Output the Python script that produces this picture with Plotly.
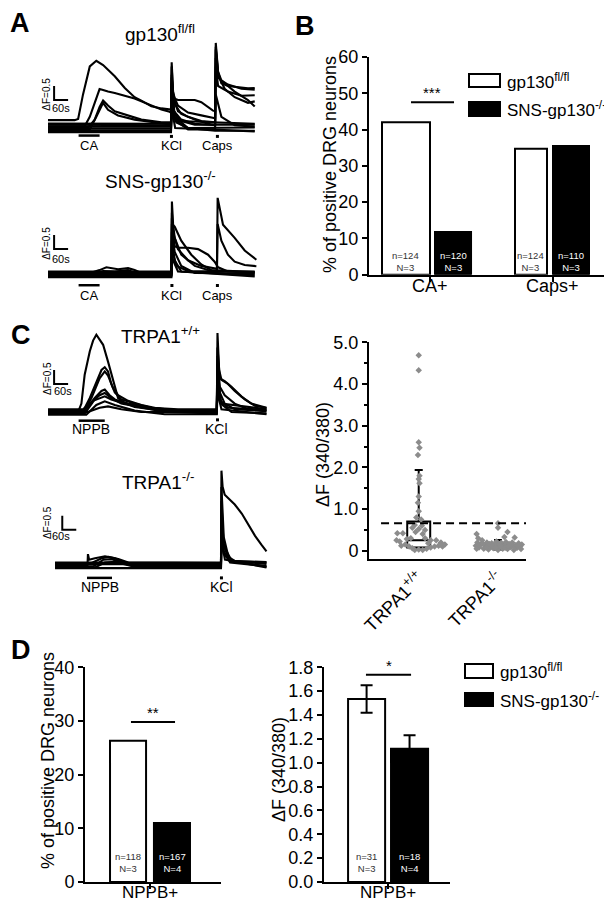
import plotly.graph_objects as go

FONT = "Liberation Sans, Arial, Helvetica, sans-serif"
W, H = 612, 900


def px(xp):
    return xp / W


def py(yp):
    return 1 - yp / H


# ---------------- Panel A: calcium traces (time in s, dF 340/380) ----------------
gp130_ff_traces = [
    ([0, 114, 129, 150, 179, 207, 236, 286, 329, 371, 400, 443, 486, 521, 527, 530, 536, 543, 557, 600, 629, 657, 686, 707, 716, 719, 729, 743, 771, 800, 829, 857, 886],
     [0.28, 0.28, 0.32, 1.2, 2.2, 2.4, 2.25, 1.85, 1.43, 1.1, 0.98, 0.78, 0.7, 0.65, 0.66, 2.35, 1.3, 1.05, 1.0, 1.0, 1.0, 0.92, 0.75, 0.62, 0.6, 3.04, 2.0, 1.6, 1.5, 1.47, 1.45, 1.42, 1.43]),
    ([0, 157, 179, 207, 221, 236, 257, 286, 329, 371, 400, 443, 486, 521, 527, 530, 536, 557, 600, 657, 716, 719, 729, 743, 771, 829, 886],
     [0.06, 0.06, 0.4, 1.1, 1.39, 1.36, 1.3, 1.25, 1.15, 1.05, 0.95, 0.8, 0.66, 0.58, 0.55, 2.2, 1.2, 0.8, 0.55, 0.45, 0.35, 2.9, 2.0, 1.7, 1.55, 1.4, 1.37]),
    ([0, 171, 200, 221, 236, 257, 286, 329, 400, 486, 527, 530, 536, 557, 600, 657, 716, 719, 729, 757, 800, 857, 886],
     [0.0, 0.0, 0.3, 0.75, 0.98, 0.8, 0.6, 0.48, 0.3, 0.2, 0.2, 1.9, 1.1, 0.6, 0.4, 0.25, 0.2, 2.5, 1.8, 1.6, 1.3, 1.0, 0.77]),
    ([0, 179, 207, 236, 257, 300, 371, 486, 527, 530, 540, 571, 629, 716, 719, 729, 771, 829, 886],
     [-0.05, -0.05, 0.4, 0.9, 0.65, 0.45, 0.3, 0.15, 0.12, 1.5, 0.6, 0.3, 0.15, 0.1, 2.2, 1.5, 1.3, 1.15, 1.17]),
    ([0, 527, 530, 540, 557, 600, 716, 886], [-0.12, -0.12, 1.6, 0.6, 0.3, 0.0, -0.1, -0.1]),
    ([0, 527, 530, 543, 571, 629, 886], [0.12, 0.1, 1.3, 0.5, 0.25, 0.12, 0.12]),
    ([0, 527, 530, 543, 600, 716, 719, 743, 800, 886], [-0.08, -0.08, 1.0, 0.3, -0.05, -0.05, 1.2, 0.4, 0.1, 0.05]),
    ([0, 527, 530, 540, 571, 629, 686, 716, 719, 729, 757, 800, 857, 886],
     [0.05, 0.05, 1.8, 0.9, 0.5, 0.3, 0.15, 0.1, 2.8, 1.9, 1.4, 1.1, 0.9, 0.95]),
    ([0, 527, 530, 550, 600, 886], [-0.02, -0.02, 0.8, 0.2, 0.0, 0.02]),
    ([0, 527, 530, 557, 886], [0.16, 0.15, 0.5, 0.25, 0.15]),
    ([0, 527, 530, 545, 886], [-0.15, -0.15, 0.7, 0.0, -0.12]),
]

sns_gp130_traces = [
    ([0, 529, 531, 536, 543, 557, 600, 643, 686, 714, 729, 771, 886],
     [0.05, 0.05, 2.0, 1.4, 1.0, 0.95, 0.95, 0.9, 0.7, 0.45, 0.25, 0.1, 0.05]),
    ([0, 529, 531, 536, 543, 571, 629, 686, 724, 727, 750, 800, 843, 893],
     [-0.05, -0.05, 2.6, 1.8, 1.3, 0.7, 0.3, 0.15, 0.1, 2.73, 1.77, 1.3, 0.85, 0.52]),
    ([0, 529, 531, 536, 557, 600, 657, 724, 727, 743, 771, 800, 843, 893],
     [0.0, 0.0, 2.2, 1.5, 0.9, 0.5, 0.3, 0.2, 1.8, 1.2, 0.7, 0.45, 0.33, 0.29]),
    ([0, 529, 531, 543, 571, 614, 657, 700, 886], [0.08, 0.08, 1.8, 1.7, 1.2, 0.7, 0.35, 0.15, 0.08]),
    ([0, 529, 531, 543, 571, 886], [-0.1, -0.1, 1.2, 0.5, 0.1, -0.08]),
    ([0, 529, 531, 550, 600, 886], [0.1, 0.1, 0.9, 0.3, 0.12, 0.1]),
    ([0, 171, 221, 250, 300, 343, 371, 400, 529, 531, 543, 571, 629, 886],
     [0.02, 0.02, 0.15, 0.25, 0.18, 0.22, 0.15, 0.05, 0.03, 1.5, 0.8, 0.3, 0.05, 0.03]),
    ([0, 186, 236, 286, 343, 386, 529, 531, 557, 886], [-0.03, -0.03, 0.12, 0.1, 0.15, 0.0, -0.03, 0.6, 0.1, -0.03]),
]

# ---------------- Panel C: calcium traces ----------------
trpa1_wt_traces = [
    ([0, 129, 143, 157, 179, 193, 207, 221, 236, 257, 286, 300, 329, 371, 443, 543, 723, 726, 733, 743, 771, 800, 843, 886, 936],
     [0, 0, 0.3, 1.33, 2.17, 2.55, 2.76, 2.6, 2.4, 1.8, 0.86, 0.5, 0.32, 0.18, 0.1, 0.03, 0, 2.82, 1.5, 1.15, 1.0, 0.75, 0.45, 0.22, 0.14]),
    ([0, 150, 179, 207, 229, 243, 257, 271, 286, 314, 371, 443, 543, 723, 726, 736, 757, 786, 829, 871, 936],
     [0.03, 0.03, 0.5, 1.1, 1.5, 1.6, 1.45, 1.0, 0.7, 0.45, 0.3, 0.15, 0.05, 0.03, 2.3, 1.2, 1.1, 0.9, 0.55, 0.3, 0.15]),
    ([0, 150, 186, 221, 243, 257, 279, 300, 343, 400, 471, 557, 723, 726, 736, 757, 800, 857, 936],
     [-0.03, -0.03, 0.5, 1.2, 1.45, 1.3, 0.85, 0.6, 0.4, 0.25, 0.12, 0.02, -0.02, 2.0, 0.9, 0.6, 0.3, 0.1, 0.05]),
    ([0, 157, 200, 229, 243, 264, 286, 343, 443, 557, 723, 726, 740, 771, 936],
     [0.05, 0.05, 0.5, 0.75, 0.8, 0.6, 0.45, 0.3, 0.15, 0.06, 0.05, 1.5, 0.4, 0.15, 0.08]),
    ([0, 157, 200, 221, 243, 271, 314, 400, 500, 723, 726, 740, 786, 936],
     [-0.06, -0.06, 0.45, 0.6, 0.68, 0.5, 0.3, 0.15, 0.0, -0.05, 1.2, 0.3, 0.0, -0.05]),
    ([0, 150, 193, 221, 243, 271, 329, 443, 557, 723, 726, 743, 936],
     [0.1, 0.1, 0.4, 0.5, 0.56, 0.45, 0.3, 0.15, 0.1, 0.1, 0.9, 0.3, 0.1]),
    ([0, 164, 207, 243, 286, 371, 500, 723, 726, 743, 936],
     [-0.1, -0.1, 0.25, 0.38, 0.25, 0.05, -0.08, -0.08, 0.7, 0.1, -0.08]),
    ([0, 171, 221, 257, 314, 400, 723, 726, 736, 757, 800, 936],
     [0, 0, 0.15, 0.2, 0.1, 0, 0, 1.7, 0.7, 0.3, 0.1, 0.03]),
]

trpa1_ko_traces = [
    ([0, 139, 141, 146, 171, 214, 257, 300, 343, 711, 713, 718, 727, 770, 800, 827, 857, 884, 906],
     [0, 0, 0.4, 0.2, 0.25, 0.32, 0.25, 0.08, 0, 0, 3.38, 2.8, 2.52, 2.17, 1.85, 1.45, 1.05, 0.74, 0.5]),
    ([0, 157, 200, 229, 271, 314, 711, 713, 723, 743, 771, 906], [0.08, 0.08, 0.25, 0.3, 0.22, 0.1, 0.08, 2.8, 1.0, 0.3, 0.15, 0.1]),
    ([0, 171, 214, 257, 314, 711, 713, 721, 743, 906], [-0.08, -0.08, 0.1, 0.12, 0, -0.08, 2.3, 0.8, 0.2, -0.05]),
    ([0, 711, 713, 723, 757, 906], [0.04, 0.04, 2.0, 0.7, 0.15, 0.05]),
    ([0, 164, 207, 243, 286, 329, 711, 713, 723, 750, 906], [-0.04, -0.04, 0.2, 0.22, 0.1, -0.03, -0.04, 1.5, 0.5, 0.1, -0.03]),
    ([0, 711, 713, 723, 750, 906], [0.1, 0.1, 1.2, 0.4, 0.15, 0.12]),
    ([0, 711, 713, 728, 906], [-0.1, -0.1, 0.9, 0.2, -0.08]),
]

# ---------------- Panel B: % positive neurons ----------------
b_categories = ["CA+", "Caps+"]
b_gp130_ff = [42.0, 34.7]
b_sns_gp130 = [11.8, 35.5]
b_n_ff = ["n=124", "n=124"]
b_n_sns = ["n=120", "n=110"]
b_N_ff = ["N=3", "N=3"]
b_N_sns = ["N=3", "N=3"]

# ---------------- Panel C right: dF amplitudes ----------------
c_categories = ["TRPA1<sup>+/+</sup>", "TRPA1<sup>-/-</sup>"]
trpa1_wt_x = [0.0, 0.0, 0.0, 0.01, -0.01, 0.01, 0.0, 0.01, 0.0, -0.01, 0.0, -0.03, 0.03, -0.05, 0.04, -0.08, 0.08, 0.0, -0.04, 0.05,
              -0.27, -0.2, -0.28, -0.24, -0.17, -0.12, -0.08, -0.05, 0.0, 0.05, 0.1, 0.15, 0.2, 0.25, 0.28, 0.22, 0.27, 0.12, -0.1, -0.15,
              0.08, 0.15, 0.3, -0.22, 0.33]
trpa1_wt_y = [4.69, 4.33, 2.6, 2.47, 2.3, 1.8, 1.72, 1.62, 1.3, 1.15, 0.95, 0.8, 0.75, 0.62, 0.6, 0.55, 0.5, 0.52, 0.45, 0.4,
              0.42, 0.42, 0.25, 0.22, 0.15, 0.1, 0.06, 0.02, 0.03, 0.02, 0.05, 0.08, 0.1, 0.12, 0.2, 0.25, 0.15, 0.18, 0.3, 0.28,
              0.3, 0.25, 0.1, 0.12, 0.15]
trpa1_ko_x = [0.72, 0.74, 0.76, 0.78, 0.8, 0.82, 0.84, 0.86, 0.88, 0.9, 0.92, 0.94, 0.96, 0.98, 1.0, 1.02, 1.04, 1.06, 1.08, 1.1,
              1.12, 1.14, 1.16, 1.18, 1.2, 1.22, 1.24, 1.26, 1.28, 1.3,
              0.73, 0.77, 0.81, 0.85, 0.89, 0.93, 0.97, 1.01, 1.05, 1.09, 1.13, 1.17, 1.21, 1.25, 1.29,
              1.0, 1.0, 1.12, 0.73, 1.21, 0.75, 1.08]
trpa1_ko_y = [0.12, 0.2, 0.08, 0.15, 0.25, 0.05, 0.12, 0.2, 0.03, 0.1, 0.18, 0.06, 0.14, 0.22, 0.02, 0.11, 0.19, 0.05, 0.13, 0.21,
              0.04, 0.16, 0.09, 0.2, 0.02, 0.13, 0.07, 0.18, 0.1, 0.15,
              0.05, 0.13, 0.17, 0.08, 0.16, 0.12, 0.07, 0.16, 0.09, 0.07, 0.11, 0.14, 0.08, 0.12, 0.04,
              0.66, 0.55, 0.45, 0.4, 0.32, 0.3, 0.33]
# box statistics: [q1, median, q3, lower whisker, upper whisker]
trpa1_wt_box = [0.08, 0.25, 0.7, 0.05, 1.94]
trpa1_ko_box = [0.06, 0.10, 0.17, 0.03, 0.26]
threshold = 0.66

# ---------------- Panel D ----------------
d_category = ["NPPB+"]
d_pct_ff = [26.3]
d_pct_sns = [11.0]
d_amp_ff = [1.534]
d_amp_sns = [1.117]
d_sem_ff = [0.115]
d_sem_sns = [0.113]

fig = go.Figure()


def axn(i):
    return ("x", "y") if i == 1 else (f"x{i}", f"y{i}")


def add_lines(traces, i):
    xa, ya = axn(i)
    for t, v in traces:
        fig.add_trace(go.Scatter(x=t, y=v, mode="lines", line=dict(color="black", width=2.1),
                                 xaxis=xa, yaxis=ya, showlegend=False, hoverinfo="skip"))


def add_seg(xs, ys, i, width=2.0, dash=None):
    xa, ya = axn(i)
    fig.add_trace(go.Scatter(x=xs, y=ys, mode="lines", line=dict(color="black", width=width, dash=dash),
                             xaxis=xa, yaxis=ya, showlegend=False, hoverinfo="skip"))


def add_dot(x, y, i):
    xa, ya = axn(i)
    fig.add_trace(go.Scatter(x=[x], y=[y], mode="markers", marker=dict(color="black", size=3, symbol="square"),
                             xaxis=xa, yaxis=ya, showlegend=False, hoverinfo="skip"))


annotations = []


def ann(text, x, y, i=None, size=13, angle=0, xanchor="center", yanchor="middle", color="black", bold=False,
        yref=None):
    if i is None:
        xr, yr = "paper", "paper"
    else:
        xr, yr = axn(i)
    if yref is not None:
        yr = yref
    annotations.append(dict(text=f"<b>{text}</b>" if bold else text, x=x, y=y, xref=xr, yref=yr,
                            showarrow=False, textangle=angle, xanchor=xanchor, yanchor=yanchor,
                            font=dict(size=size, color=color, family=FONT)))


# ---- trace panels ----
add_lines(gp130_ff_traces, 1)
add_lines(sns_gp130_traces, 2)
add_lines(trpa1_wt_traces, 4)
add_lines(trpa1_ko_traces, 5)

# scale bars (0.5 dF, 60 s)
for i, sx, sy in [(1, 26, 1.0), (2, 26, 0.9), (4, 26, 1.0), (5, 31, 1.27)]:
    add_seg([sx, sx, sx + 60], [sy + 0.5, sy, sy], i)

# stimulus markers
add_seg([131, 221], [-0.27, -0.27], 1, 2.5)
add_dot(529, -0.3, 1)
add_dot(726, -0.3, 1)
add_seg([131, 221], [-0.39, -0.39], 2, 2.5)
add_dot(531, -0.4, 2)
add_dot(726, -0.4, 2)
add_seg([131, 243], [-0.31, -0.31], 4, 2.5)
add_dot(726, -0.28, 4)
add_seg([137, 244], [-0.45, -0.45], 5, 2.5)
add_dot(713, -0.45, 5)

# texts on trace panels
ann("ΔF=0.5", -5, 1.22, 1, 10, -90)
ann("60s", 57, 0.71, 1, 11)
ann("CA", 176, -0.62, 1, 13)
ann("KCl", 529, -0.62, 1, 13)
ann("Caps", 726, -0.62, 1, 13)
ann("gp130<sup>fl/fl</sup>", px(152), py(25), None, 19)

ann("ΔF=0.5", -5, 1.12, 2, 10, -90)
ann("60s", 57, 0.56, 2, 11)
ann("CA", 176, -0.75, 2, 13)
ann("KCl", 531, -0.75, 2, 13)
ann("Caps", 726, -0.75, 2, 13)
ann("SNS-gp130<sup>-/-</sup>", px(152), py(172), None, 19)

ann("ΔF=0.5", -5, 1.21, 4, 10, -90)
ann("60s", 64, 0.74, 4, 11)
ann("NPPB", 186, -0.6, 4, 14)
ann("KCl", 721, -0.6, 4, 14)
ann("TRPA1<sup>+/+</sup>", px(152), py(327), None, 19)

ann("ΔF=0.5", -34, 1.51, 5, 10, -90)
ann("60s", 27, 1.04, 5, 11)
ann("NPPB", 191, -0.77, 5, 14)
ann("KCl", 713, -0.77, 5, 14)
ann("TRPA1<sup>-/-</sup>", px(150), py(473), None, 19)

# ---- Panel B bars ----
b_x = [0, 1]
fig.add_trace(go.Bar(x=b_x, y=b_gp130_ff, offset=[-0.394, -0.308], width=[0.392, 0.261],
                     marker=dict(color="white", line=dict(color="black", width=2)),
                     xaxis="x3", yaxis="y3", showlegend=False, hoverinfo="skip"))
fig.add_trace(go.Bar(x=b_x, y=b_sns_gp130, offset=[0.039, 0.002], width=[0.294, 0.294],
                     marker=dict(color="black", line=dict(color="black", width=2)),
                     xaxis="x3", yaxis="y3", showlegend=False, hoverinfo="skip"))
add_seg([-0.157, 0.194], [47.5, 47.5], 3, 2)
ann("***", 0.018, 47.2, 3, 15, yanchor="bottom")
for xc, n1, n2, col in [(-0.198, b_n_ff[0], b_N_ff[0], "#333"), (0.186, b_n_sns[0], b_N_sns[0], "white"),
                        (1 - 0.178, b_n_ff[1], b_N_ff[1], "#333"), (1.149, b_n_sns[1], b_N_sns[1], "white")]:
    ann(f"{n1}<br>{n2}", xc, 3.7, 3, 9.5, color=col)
for xc, lab in zip(b_x, b_categories):
    ann(lab, xc, py(278), 3, 18, yref="paper")

# ---- Panel C right: box + points ----
fig.add_trace(go.Scatter(x=trpa1_wt_x, y=trpa1_wt_y, mode="markers",
                         marker=dict(color="#8c8c8c", size=5, symbol="diamond"),
                         xaxis="x6", yaxis="y6", showlegend=False, hoverinfo="skip"))
fig.add_trace(go.Scatter(x=trpa1_ko_x, y=trpa1_ko_y, mode="markers",
                         marker=dict(color="#8c8c8c", size=5, symbol="diamond"),
                         xaxis="x6", yaxis="y6", showlegend=False, hoverinfo="skip"))
fig.add_trace(go.Box(x=[0], q1=[trpa1_wt_box[0]], median=[trpa1_wt_box[1]], q3=[trpa1_wt_box[2]],
                     lowerfence=[trpa1_wt_box[3]], upperfence=[trpa1_wt_box[4]], width=0.29, whiskerwidth=0.35,
                     line=dict(color="black", width=2), fillcolor="rgba(0,0,0,0)", boxpoints=False,
                     orientation="v", xaxis="x6", yaxis="y6", showlegend=False, hoverinfo="skip"))
fig.add_trace(go.Box(x=[1], q1=[trpa1_ko_box[0]], median=[trpa1_ko_box[1]], q3=[trpa1_ko_box[2]],
                     lowerfence=[trpa1_ko_box[3]], upperfence=[trpa1_ko_box[4]], width=0.29, whiskerwidth=0.35,
                     line=dict(color="black", width=2), fillcolor="black", boxpoints=False,
                     orientation="v", xaxis="x6", yaxis="y6", showlegend=False, hoverinfo="skip"))
add_seg([-0.475, 1.353], [threshold, threshold], 6, 2, "8px,5px")
ann("ΔF (340/380)", px(315), py(446), None, 18, -90)

# ---- Panel D bars ----
fig.add_trace(go.Bar(x=[0], y=d_pct_ff, offset=[-0.294], width=[0.265],
                     marker=dict(color="white", line=dict(color="black", width=2)),
                     xaxis="x7", yaxis="y7", showlegend=False, hoverinfo="skip"))
fig.add_trace(go.Bar(x=[0], y=d_pct_sns, offset=[0.029], width=[0.265],
                     marker=dict(color="black", line=dict(color="black", width=2)),
                     xaxis="x7", yaxis="y7", showlegend=False, hoverinfo="skip"))
add_seg([-0.14, 0.184], [29.8, 29.8], 7, 2)
ann("**", 0.022, 29.6, 7, 15, yanchor="bottom")
ann("n=118<br>N=3", -0.162, 3.65, 7, 9.5, color="#333")
ann("n=167<br>N=4", 0.162, 3.65, 7, 9.5, color="white")
ann(d_category[0], 0, py(884), 7, 17, yref="paper")

fig.add_trace(go.Bar(x=[0], y=d_amp_ff, offset=[-0.317], width=[0.294],
                     marker=dict(color="white", line=dict(color="black", width=2)),
                     error_y=dict(type="data", array=d_sem_ff, color="black", thickness=2, width=6),
                     xaxis="x8", yaxis="y8", showlegend=False, hoverinfo="skip"))
fig.add_trace(go.Bar(x=[0], y=d_amp_sns, offset=[0.024], width=[0.294],
                     marker=dict(color="black", line=dict(color="black", width=2)),
                     error_y=dict(type="data", array=d_sem_sns, color="black", thickness=2, width=6),
                     xaxis="x8", yaxis="y8", showlegend=False, hoverinfo="skip"))
add_seg([-0.175, 0.183], [1.737, 1.737], 8, 2)
ann("*", 0.004, 1.73, 8, 15, yanchor="bottom")
ann("n=31<br>N=3", -0.17, 0.163, 8, 9.5, color="#333")
ann("n=18<br>N=4", 0.171, 0.163, 8, 9.5, color="white")
ann(d_category[0], 0, py(884), 8, 17, yref="paper")

# axis titles
ann("% of positive DRG neurons", px(322), py(157), None, 18, -90)
ann("% of positive DRG neurons", px(40), py(753), None, 18, -90)
ann("ΔF (340/380)", px(271), py(762), None, 18, -90)

# legends
shapes = []
for (x0, x1, ya0, ya1, yb0, yb1, tx) in [(461, 492, 66, 79, 94, 108, 497), (457, 485, 656, 670, 685, 698, 490)]:
    shapes.append(dict(type="rect", xref="paper", yref="paper", x0=px(x0), x1=px(x1), y0=py(ya1), y1=py(ya0),
                       fillcolor="white", line=dict(color="black", width=2)))
    shapes.append(dict(type="rect", xref="paper", yref="paper", x0=px(x0), x1=px(x1), y0=py(yb1), y1=py(yb0),
                       fillcolor="black", line=dict(color="black", width=2)))
    ann("gp130<sup>fl/fl</sup>", px(tx), py((ya0 + ya1) / 2), None, 17, xanchor="left")
    ann("SNS-gp130<sup>-/-</sup>", px(tx), py((yb0 + yb1) / 2), None, 17, xanchor="left")

# panel letters
ann("A", px(12), py(15), None, 27, bold=True)
ann("B", px(297), py(18), None, 27, bold=True)
ann("C", px(13), py(327), None, 27, bold=True)
ann("D", px(13), py(642), None, 27, bold=True)


def hidden(domain, rng, anchor):
    return dict(domain=domain, range=rng, visible=False, fixedrange=True, anchor=anchor, automargin=False)


def bar_axis(**kw):
    d = dict(showline=True, linewidth=2, linecolor="black", ticks="outside", ticklen=5, tickwidth=2,
             tickcolor="black", showgrid=False, zeroline=False, fixedrange=True, automargin=False,
             tickfont=dict(size=18, color="black", family=FONT))
    d.update(kw)
    return d


fig.update_layout(
    template="none",
    width=W, height=900, autosize=False, margin=dict(l=0, r=0, t=0, b=0, pad=0),
    paper_bgcolor="white", plot_bgcolor="rgba(0,0,0,0)",
    font=dict(family=FONT, color="black"), showlegend=False, barmode="overlay",
    xaxis=hidden([px(30), px(250)], [-43, 900], "y"),
    yaxis=hidden([py(145), py(28)], [-0.893, 3.286], "x"),
    xaxis2=hidden([px(30), px(250)], [-43, 900], "y2"),
    yaxis2=hidden([py(295), py(185)], [-1.025, 2.904], "x2"),
    xaxis3=bar_axis(domain=[px(361), px(606)], range=[-0.5, 1.5], tickvals=b_x, showticklabels=False, anchor="y3"),
    yaxis3=bar_axis(domain=[py(266.7), py(49)], range=[0, 60], tickvals=[0, 10, 20, 30, 40, 50, 60],
                    ticktext=["0", "10", "20", "30", "40", "50", "60"], anchor="x3"),
    xaxis4=hidden([px(30), px(262)], [-43, 951], "y4"),
    yaxis4=hidden([py(432), py(318)], [-1.0, 3.071], "x4"),
    xaxis5=hidden([px(30), px(262)], [-73, 921], "y5"),
    yaxis5=hidden([py(590), py(458)], [-1.168, 3.546], "x5"),
    xaxis6=bar_axis(domain=[px(361), px(518)], range=[-0.627, 1.353], tickvals=[0, 1], ticktext=c_categories,
                    tickangle=-45, ticks="", anchor="y6"),
    yaxis6=bar_axis(domain=[py(550.7), py(334.3)], range=[-0.19, 5.0], tickvals=[0, 1, 2, 3, 4, 5],
                    ticktext=["0", "1.0", "2.0", "3.0", "4.0", "5.0"], anchor="x6",
                    minor=dict(tickvals=[0.5, 1.5, 2.5, 3.5, 4.5], ticks="outside", ticklen=3, tickwidth=2,
                               tickcolor="black")),
    xaxis7=bar_axis(domain=[px(77), px(213)], range=[-0.478, 0.522], tickvals=[0], showticklabels=False,
                    anchor="y7"),
    yaxis7=bar_axis(domain=[py(874), py(659.3)], range=[0, 40], tickvals=[0, 10, 20, 30, 40],
                    ticktext=["0", "10", "20", "30", "40"], anchor="x7"),
    xaxis8=bar_axis(domain=[px(316), px(442)], range=[-0.508, 0.492], tickvals=[0], showticklabels=False,
                    anchor="y8"),
    yaxis8=bar_axis(domain=[py(874), py(659.3)], range=[0, 1.8],
                    tickvals=[0, 0.2, 0.4, 0.6, 0.8, 1.0, 1.2, 1.4, 1.6, 1.8],
                    ticktext=["0.0", "0.2", "0.4", "0.6", "0.8", "1.0", "1.2", "1.4", "1.6", "1.8"], anchor="x8"),
    annotations=annotations, shapes=shapes,
)

fig.write_html("out.html")
